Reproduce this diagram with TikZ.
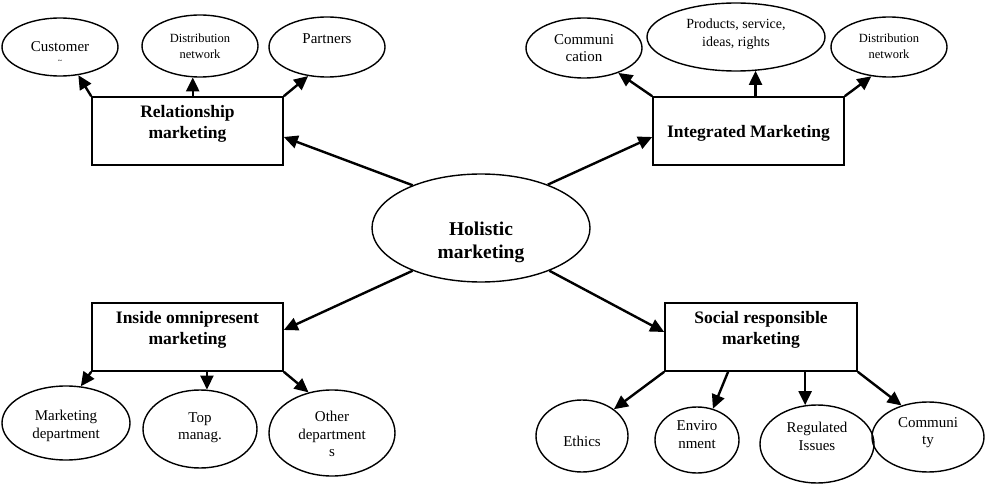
\documentclass[tikz,border=0pt]{standalone}
\usepackage{fontspec}
\setmainfont{Liberation Serif}
\usetikzlibrary{shapes.geometric,arrows.meta,calc}
\newcommand{\txt}[2]{\raisebox{#1}[0pt][0pt]{\begin{tabular}{@{}c@{}}#2\end{tabular}}}
\tikzset{
 ell/.style={draw, ellipse, line width=1.4pt, inner sep=0pt},
 sbox/.style={draw, rectangle, line width=1.6pt, inner sep=0pt, minimum width=191pt, minimum height=68pt, font=\fontsize{17.5}{20.5}\selectfont\bfseries},
 arr/.style={-{Triangle[length=14pt,width=13pt]}, line width=2.4pt},
 etxt/.style={font=\fontsize{15}{17.5}\selectfont},
 stxt/.style={font=\fontsize{12.5}{16}\selectfont},
 htxt/.style={font=\fontsize{19.5}{23}\selectfont\bfseries},
}
\begin{document}
\begin{tikzpicture}[x=1pt,y=-1pt]
\useasboundingbox (0,0) rectangle (986,484);
% boxes
\node[sbox] (rel) at (187.5,131) {\txt{2.6pt}{Relationship\\marketing}};
\node[sbox] (im) at (748.5,131) {\txt{-6.4pt}{Integrated Marketing}};
\node[sbox] (in) at (187.5,337) {\txt{2.6pt}{Inside omnipresent\\marketing}};
\node[sbox, minimum width=192pt] (soc) at (761,337) {\txt{2.6pt}{Social responsible\\marketing}};
\node[ell, htxt, minimum width=218pt, minimum height=108pt] (hol) at (481,228) {\txt{-20pt}{Holistic\\marketing}};
% top-left ellipses
\node[ell, etxt, minimum width=116pt, minimum height=58pt] (cust) at (60,47) {\txt{-4.75pt}{\ooalign{Customer\cr\hfil\raisebox{-12pt}[0pt][0pt]{\fontsize{8}{8}\selectfont\textasciitilde}\hfil\cr}}};
\node[ell, stxt, minimum width=116pt, minimum height=62pt] (dl) at (200,46) {\txt{-4.1pt}{Distribution\\network}};
\node[ell, etxt, minimum width=116pt, minimum height=60pt] (part) at (327,47) {\txt{3.25pt}{Partners}};
% top-right ellipses
\node[ell, etxt, minimum width=116pt, minimum height=60pt] (comm) at (584,48) {\txt{-5.25pt}{Communi\\cation}};
\node[ell, font=\fontsize{14}{18}\selectfont, minimum width=178pt, minimum height=68pt] (prod) at (736,37) {\txt{-0.5pt}{Products, service,\\ideas, rights}};
\node[ell, stxt, minimum width=116pt, minimum height=60pt] (dr) at (889,47) {\txt{-3.1pt}{Distribution\\network}};
% bottom-left ellipses
\node[ell, etxt, minimum width=128pt, minimum height=74pt] (md) at (66,423) {\txt{-6.75pt}{Marketing\\department}};
\node[ell, etxt, minimum width=114pt, minimum height=78pt] (top) at (200,429) {\txt{-2.25pt}{Top\\manag.}};
\node[ell, etxt, minimum width=126pt, minimum height=86pt] (oth) at (332,433) {\txt{-6.25pt}{Other\\department\\s}};
% bottom-right ellipses
\node[ell, etxt, minimum width=92pt, minimum height=72pt] (eth) at (582,436) {\txt{-10.75pt}{Ethics}};
\node[ell, etxt, minimum width=84pt, minimum height=66pt] (env) at (697,440) {\txt{0.25pt}{Enviro\\nment}};
\node[ell, etxt, minimum width=114pt, minimum height=78pt] (reg) at (817,444) {\txt{2.25pt}{Regulated\\Issues}};
\node[ell, etxt, minimum width=112pt, minimum height=70pt] (com) at (928,437) {\txt{0.75pt}{Communi\\ty}};
% arrows
\draw[arr] (rel.north west) -- (cust.-57);
\draw[arr] (rel.north -| dl.-103) -- (dl.-103);
\draw[arr] (rel.north east) -- (part.-123);
\draw[arr] (im.north west) -- (comm.-36);
\draw[arr] (im.north -| prod.-60) -- (prod.-60);
\draw[arr] (im.north east) -- (dr.-121);
\draw[arr] (in.south west) -- (md.68);
\draw[arr] (in.south -| top.80) -- (top.80);
\draw[arr] (in.south east) -- (oth.120);
\draw[arr] (soc.south west) -- (eth.40);
\draw[arr] ($(soc.south west)!0.33!(soc.south east)$) -- (env.63);
\draw[arr] (soc.south -| reg.107) -- (reg.107);
\draw[arr] (soc.south east) -- (com.130);
\draw[arr] (hol.148) -- ([yshift=-6pt]rel.east);
\draw[arr] (hol.33) -- ([yshift=-6pt]im.west);
\draw[arr] (hol.-148) -- ([yshift=7pt]in.east);
\draw[arr] (hol.-32) -- ([yshift=5pt]soc.west);
\end{tikzpicture}
\end{document}
